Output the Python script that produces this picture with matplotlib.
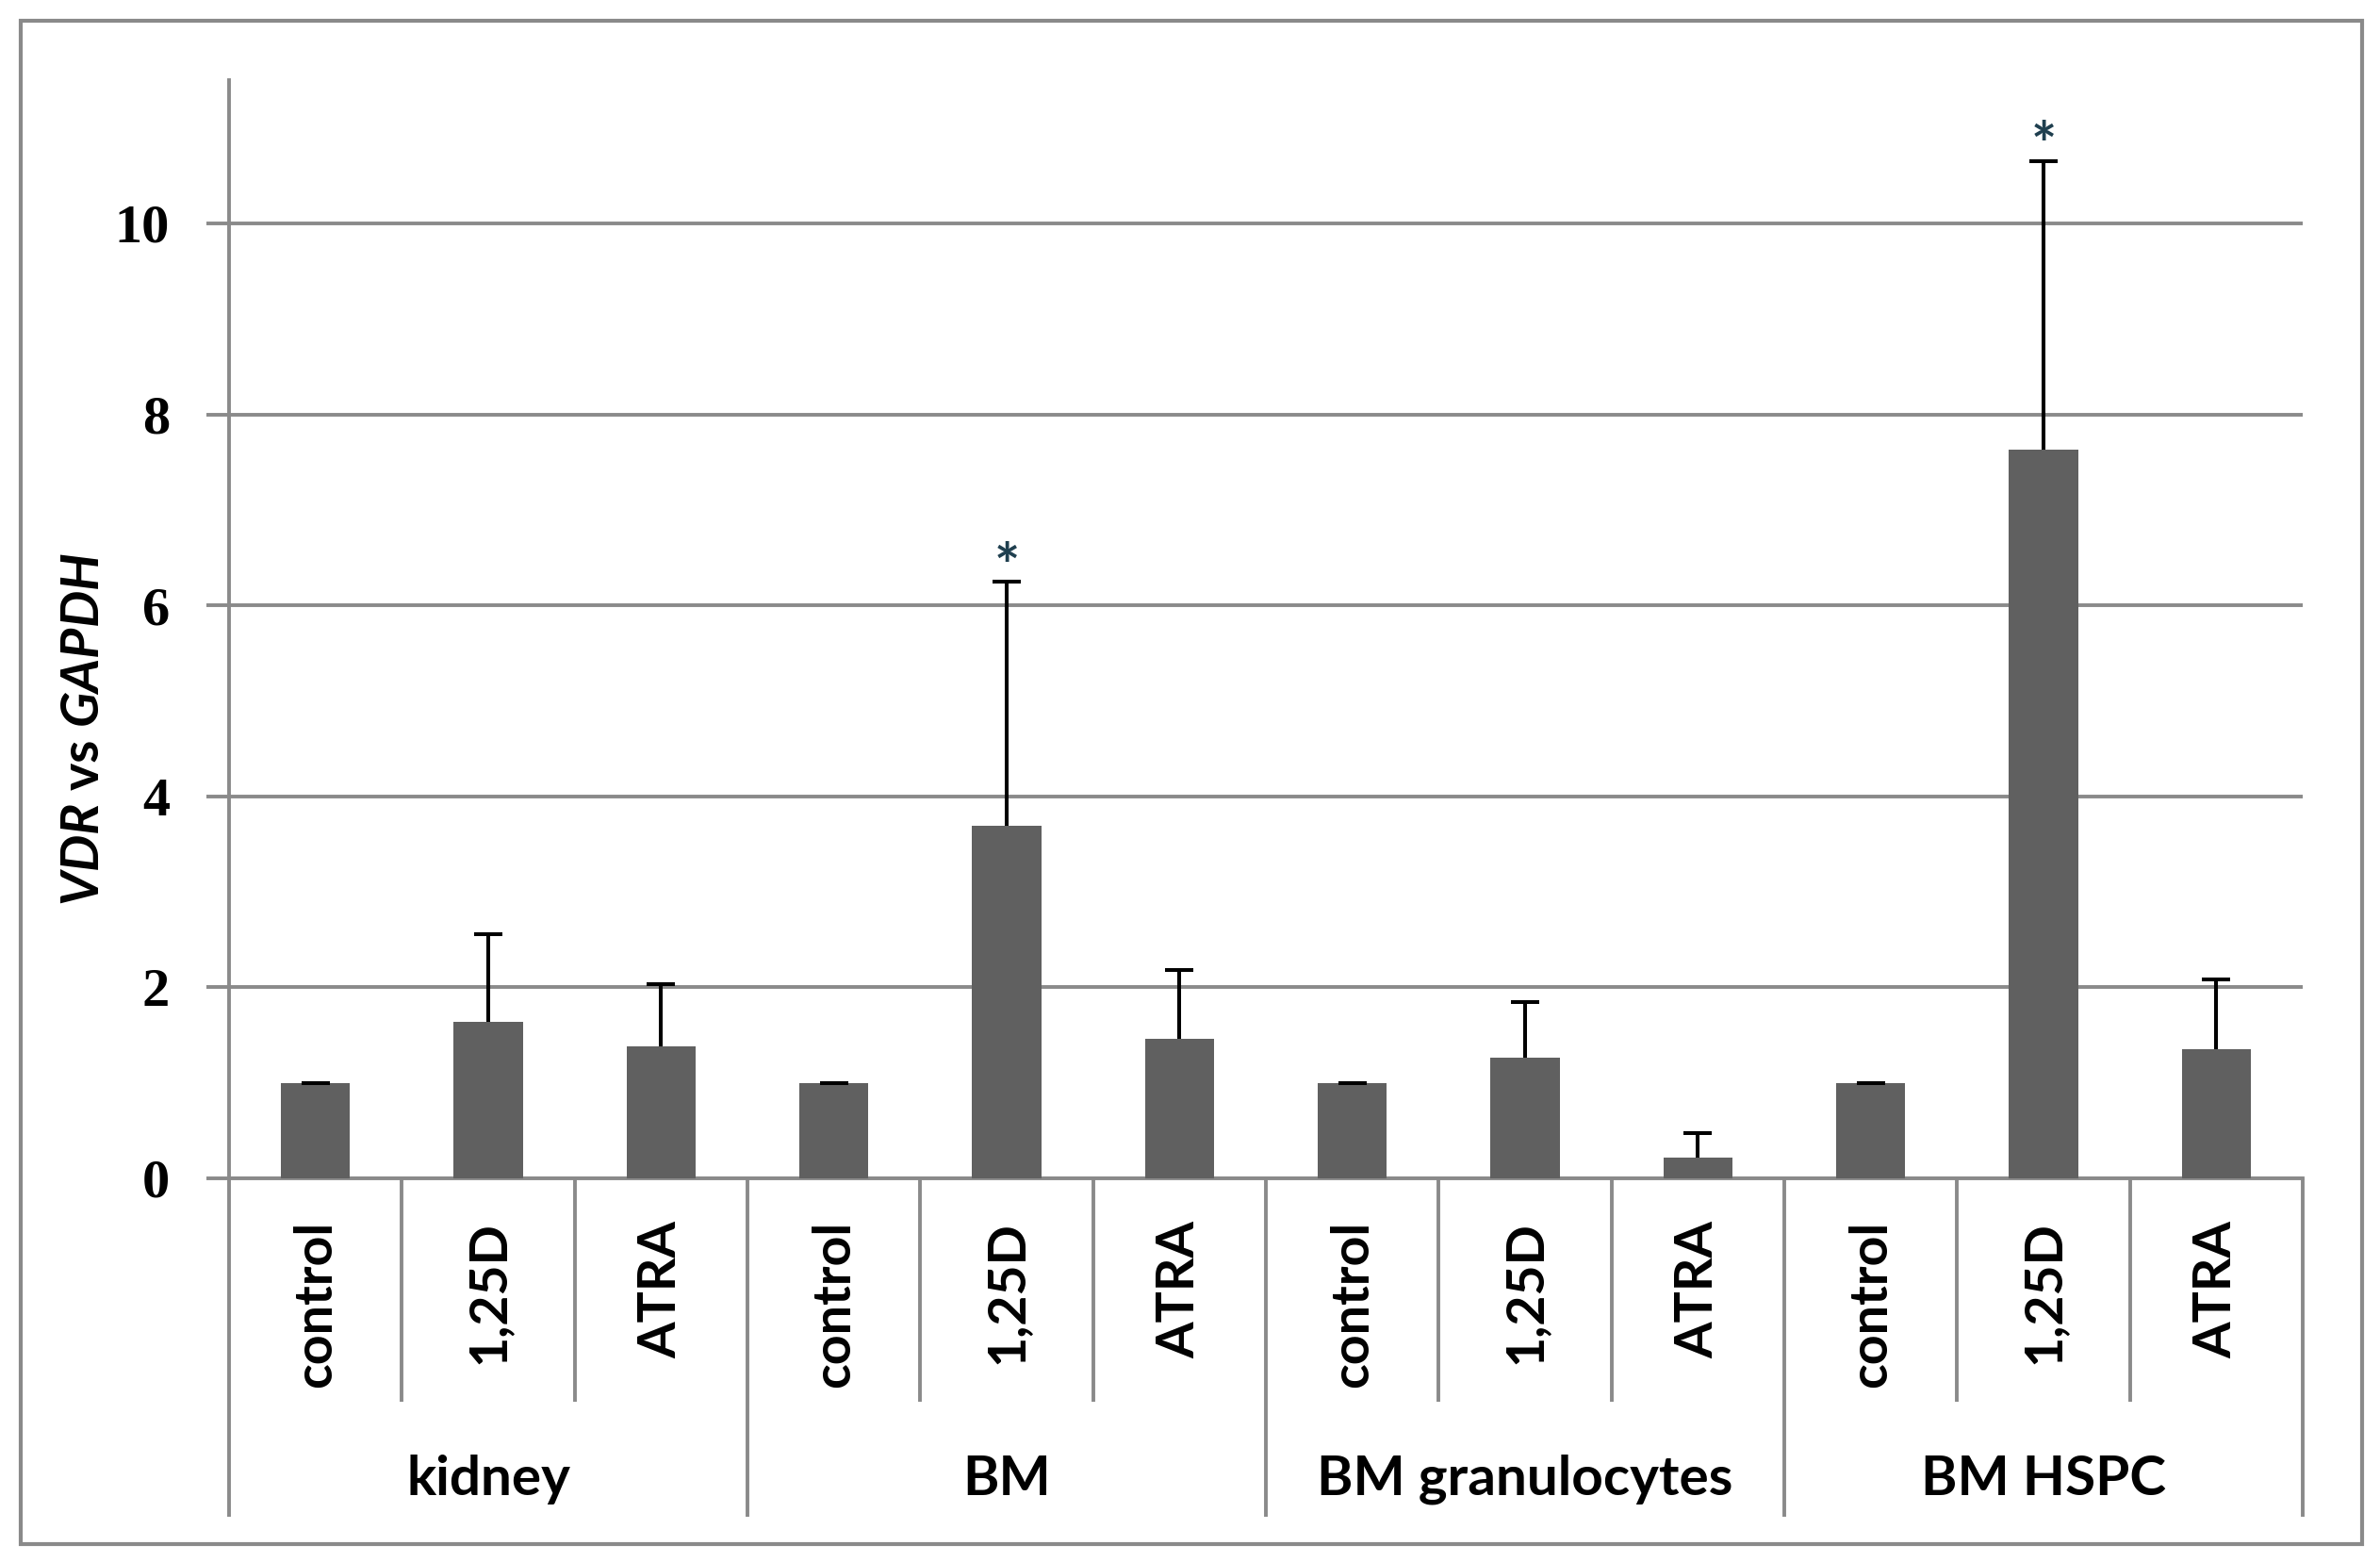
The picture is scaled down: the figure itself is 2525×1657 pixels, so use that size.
import matplotlib
matplotlib.use('Agg')
import matplotlib.pyplot as plt
import matplotlib.transforms as mtransforms
from matplotlib.patches import Rectangle
import numpy as np

# ---- data ----
groups = ['kidney', 'BM', 'BM granulocytes', 'BM HSPC']
treatments = ['control', '1,25D', 'ATRA']
values = [1.00, 1.64, 1.38, 1.00, 3.69, 1.46, 1.00, 1.26, 0.22, 1.00, 7.63, 1.35]
errors = [0.00, 0.92, 0.65, 0.00, 2.56, 0.72, 0.00, 0.59, 0.25, 0.00, 3.02, 0.73]
star_index = [4, 10]
star_y = [6.55, 10.96]
yticks = [0, 2, 4, 6, 8, 10]

plt.rcParams['mathtext.fontset'] = 'custom'
plt.rcParams['mathtext.bfit'] = 'Lato:italic:bold'
plt.rcParams['mathtext.it'] = 'Lato:italic'
plt.rcParams['mathtext.rm'] = 'Lato'
plt.rcParams['mathtext.bf'] = 'Lato:bold'

W, H = 2525, 1657
DPI = 200
fig = plt.figure(figsize=(W / DPI, H / DPI), dpi=DPI)
gray = '#8a8a8a'
bar_color = '#606060'
lw = 1.4

zero_px = 1250
ax = fig.add_axes([243 / W, 1 - zero_px / H, (2443 - 243) / W, (zero_px - 85) / H])
n = len(values)
x = np.arange(n)
ax.set_xlim(-0.5, n - 0.5)
ax.set_ylim(0, 11.5)

ax.bar(x, values, width=0.4, color=bar_color, zorder=3)
eb = ax.errorbar(x, values, yerr=[np.zeros(n), errors], fmt='none', ecolor='black',
                 elinewidth=1.45, capsize=5.4, capthick=1.45, zorder=4)
# keep only the upper caps (the lower caps sit at the bar tops)
caplines = eb[1]
if len(caplines) == 2:
    caplines[0].set_visible(False)

for i, yv in zip(star_index, star_y):
    ax.annotate('*', xy=(x[i], yv), xytext=(0, -13), textcoords='offset points',
                ha='center', va='baseline', fontsize=23, fontweight='bold',
                color='#1f3f4f', family='Lato', annotation_clip=False)

ax.set_yticks(yticks)
ax.set_yticklabels([str(t) for t in yticks], family='Liberation Serif',
                   fontweight='bold', fontsize=21)
ax.yaxis.grid(True, color=gray, lw=lw, zorder=0)
ax.set_axisbelow(True)
ax.tick_params(axis='y', direction='out', length=8.6, width=lw, color=gray, pad=14)
ax.tick_params(axis='x', bottom=False, labelbottom=False)
for s in ['top', 'right']:
    ax.spines[s].set_visible(False)
for s in ['left', 'bottom']:
    ax.spines[s].set_color(gray)
    ax.spines[s].set_linewidth(lw)

# category axis below
trans = mtransforms.blended_transform_factory(ax.transData, fig.transFigure)
y0 = 1 - zero_px / H
y_cat = 1 - 1487 / H
y_grp = 1 - 1609 / H
for b in range(n + 1):
    xb = b - 0.5
    yb = y_grp if b % 3 == 0 else y_cat
    ax.plot([xb, xb], [y0, yb], transform=trans, color=gray, lw=lw,
            clip_on=False, solid_capstyle='butt')

y_lab = 1 - 1295 / H
for i in range(n):
    ax.text(x[i], y_lab, treatments[i % 3], transform=trans, rotation=90,
            ha='center', va='top', fontsize=20, fontweight='bold', family='Lato')

y_glab = 1 - 1586 / H
for g, name in enumerate(groups):
    ax.text(3 * g + 1, y_glab, name, transform=trans, ha='center', va='baseline',
            fontsize=21, fontweight='bold', family='Lato')

fig.text(89 / W, 1 - 774 / H, r'$\mathbfit{VDR}$ vs $\mathbfit{GAPDH}$', rotation=90,
         ha='center', va='center', fontsize=20, fontweight='bold', family='Lato')

fig.patches.append(Rectangle((22 / W, 1 - 1638 / H), (2506 - 22) / W, (1638 - 22) / H,
                             transform=fig.transFigure, fill=False, ec=gray, lw=1.5))

fig.savefig('out.png', dpi=DPI, facecolor='white')
